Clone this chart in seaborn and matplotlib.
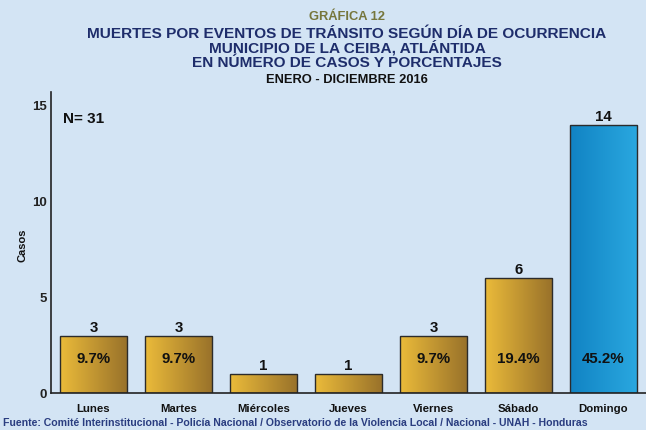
import numpy as np
import pandas as pd
import matplotlib
matplotlib.use("Agg")
import matplotlib.pyplot as plt
from matplotlib.colors import to_rgb
import seaborn as sns

# datos
dias = ["Lunes", "Martes", "Miércoles", "Jueves", "Viernes", "Sábado", "Domingo"]
casos = [3, 3, 1, 1, 3, 6, 14]
porcentajes = ["9.7%", "9.7%", "", "", "9.7%", "19.4%", "45.2%"]
total = 31

fondo = "#d3e4f4"
oro = ("#ebbb3a", "#98712a")
azul = ("#1183c3", "#2aa8e0")
colores = [oro] * 6 + [azul]

sns.set_theme(style="white")
plt.rcParams["font.family"] = ["Liberation Sans", "DejaVu Sans"]
plt.rcParams["font.weight"] = "bold"

df = pd.DataFrame({"dia": dias, "casos": casos})

fig = plt.figure(figsize=(6.46, 4.30), dpi=100, facecolor=fondo)
ax = fig.add_axes([51 / 646, 37 / 430, 595 / 646, 301 / 430])
ax.set_facecolor(fondo)

sns.barplot(data=df, x="dia", y="casos", hue="dia", legend=False,
            palette=[c[1] for c in colores], width=0.79,
            edgecolor="#2b2b2b", linewidth=1.0, ax=ax, zorder=3)

# degradado horizontal en cada barra
for patch, (c0, c1) in zip(ax.patches, colores):
    x0, y0 = patch.get_x(), patch.get_y()
    w, h = patch.get_width(), patch.get_height()
    t = np.linspace(0, 1, 256)[None, :, None]
    grad = (1 - t) * np.array(to_rgb(c0)) + t * np.array(to_rgb(c1))
    im = ax.imshow(grad, extent=[x0, x0 + w, y0, y0 + h], aspect="auto",
                   zorder=2.5, interpolation="bilinear")
    im.set_clip_path(patch)
    patch.set_facecolor("none")

for i, (v, p) in enumerate(zip(casos, porcentajes)):
    ax.annotate(str(v), (i, v), xytext=(0, 0.5), textcoords="offset points",
                ha="center", va="bottom", fontsize=10.8, fontweight="bold",
                color="#111111")
    if p:
        ax.text(i, 1.8, p, ha="center", va="center", fontsize=10.8,
                fontweight="bold", color="#111111", zorder=4)

ax.set_xlim(-0.5, 6.5)
ax.set_ylim(0, 15.73)
ax.set_yticks([0, 5, 10, 15])
ax.set_xlabel("")
ax.set_ylabel("")
ax.tick_params(axis="y", length=0, pad=3, labelsize=9.5, labelcolor="#222222")
ax.tick_params(axis="x", which="major", length=0, pad=8, labelsize=8.2,
               labelcolor="#111111")
ax.set_xticks(np.arange(-0.5, 7, 1), minor=True)
ax.tick_params(axis="x", which="minor", length=6.5, width=1.0,
               color="#222222", direction="out")
for lab in ax.get_xticklabels() + ax.get_yticklabels():
    lab.set_fontweight("bold")
sns.despine(ax=ax, top=True, right=True)
for s in ["left", "bottom"]:
    ax.spines[s].set_color("#222222")
    ax.spines[s].set_linewidth(1.2)
ax.spines["bottom"].set_zorder(5)

ax.text(0.02, 0.91, f"N= {total}", transform=ax.transAxes, ha="left",
        va="center", fontsize=11, fontweight="bold", color="#111111")

fig.text(22 / 646, 1 - 245 / 430, "Casos", rotation=90, ha="center",
         va="center", fontsize=8, fontweight="bold", color="#111111")

# titulos (posiciones por linea base)
cx = 347 / 646
fig.text(cx, 1 - 20 / 430, "GRÁFICA 12", ha="center", va="baseline",
         fontsize=9.3, fontweight="bold", color="#76763c")
titulo = ["MUERTES POR EVENTOS DE TRÁNSITO SEGÚN DÍA DE OCURRENCIA",
          "MUNICIPIO DE LA CEIBA, ATLÁNTIDA",
          "EN NÚMERO DE CASOS Y PORCENTAJES"]
for yy, linea in zip([37.5, 52.8, 67], titulo):
    fig.text(cx, 1 - yy / 430, linea, ha="center", va="baseline",
             fontsize=11.1, fontweight="bold", color="#1e2d6b")
fig.text(cx, 1 - 82.7 / 430, "ENERO - DICIEMBRE 2016", ha="center",
         va="baseline", fontsize=9.3, fontweight="bold", color="#111111")

fig.text(3 / 646, 1 - 423 / 430,
         "Fuente: Comité Interinstitucional - Policía Nacional / Observatorio "
         "de la Violencia Local / Nacional - UNAH - Honduras",
         ha="left", va="center", fontsize=7.55, fontweight="bold",
         color="#2a3d80")

fig.savefig("out.png", dpi=100, facecolor=fondo)
